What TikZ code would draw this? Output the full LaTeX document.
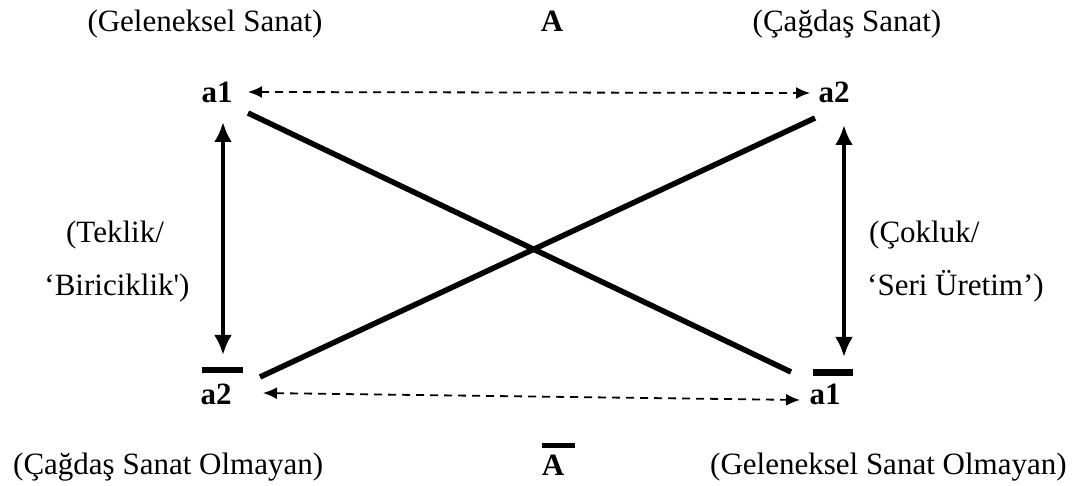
\documentclass[tikz,border=0pt]{standalone}
\usepackage{fontspec}
\setmainfont{Liberation Serif}
\usetikzlibrary{arrows.meta}

\begin{document}
\begin{tikzpicture}[
  x=1pt, y=-1pt,
  txt/.style={inner sep=0pt, anchor=base, font=\fontsize{31}{37}\selectfont},
  sym/.style={txt, font=\fontsize{31}{37}\selectfont\bfseries},
  overbar/.style={fill=black, draw=none},
  vertarr/.style={{Latex[length=20pt,width=18pt]}-{Latex[length=20pt,width=18pt]}, line width=4pt},
  dasharr/.style={{Latex[length=14pt,width=12pt]}-{Latex[length=14pt,width=12pt]}, line width=1.8pt, dash pattern=on 8pt off 6pt},
  crossline/.style={line width=5.5pt}
]
\useasboundingbox (0,0) rectangle (1085,486);

% top row
\node[txt] (gel) at (205,32) {(Geleneksel Sanat)};
\node[sym] (Atop) at (552,32) {A};
\node[txt] (cag) at (847,32) {(Çağdaş Sanat)};

% corner labels
\node[sym] (a1t) at (217,103) {a1};
\node[sym] (a2t) at (834,103) {a2};
\node[sym] (a2b) at (216,405) {a2};
\node[sym] (a1b) at (825,405) {a1};
\fill[overbar] (202,367) rectangle (243,373);
\fill[overbar] (813,369) rectangle (853,376);

% side labels
\node[txt] (tekA) at (115,243) {(Teklik/};
\node[txt] (tekB) at (117,296) {‘Biriciklik\textquotesingle)};
\node[txt, anchor=base west] (cokA) at (869,243) {(Çokluk/};
\node[txt, anchor=base west] (cokB) at (867,296) {‘Seri Üretim’)};

% bottom row
\node[txt, anchor=base west] (cagol) at (13,474) {(Çağdaş Sanat Olmayan)};
\node[sym] (Abot) at (553,475) {A};
\fill[overbar] (542,443) rectangle (575,448);
\node[txt, anchor=base west] (gelol) at (710,474) {(Geleneksel Sanat Olmayan)};

% connector ends
\coordinate (tlv) at (223,122);
\coordinate (blv) at (223,355);
\coordinate (trv) at (844,125);
\coordinate (brv) at (844,357);
\coordinate (tld) at (248,92);
\coordinate (trd) at (810,93);
\coordinate (bld) at (263,393);
\coordinate (brd) at (800,400);
\coordinate (x1s) at (248,113);
\coordinate (x1e) at (791,372);
\coordinate (x2s) at (260,377);
\coordinate (x2e) at (815,118);

\draw[vertarr] (tlv) -- (blv);
\draw[vertarr] (trv) -- (brv);
\draw[dasharr] (tld) -- (trd);
\draw[dasharr] (bld) -- (brd);
\draw[crossline] (x1s) -- (x1e);
\draw[crossline] (x2s) -- (x2e);

\end{tikzpicture}
\end{document}
